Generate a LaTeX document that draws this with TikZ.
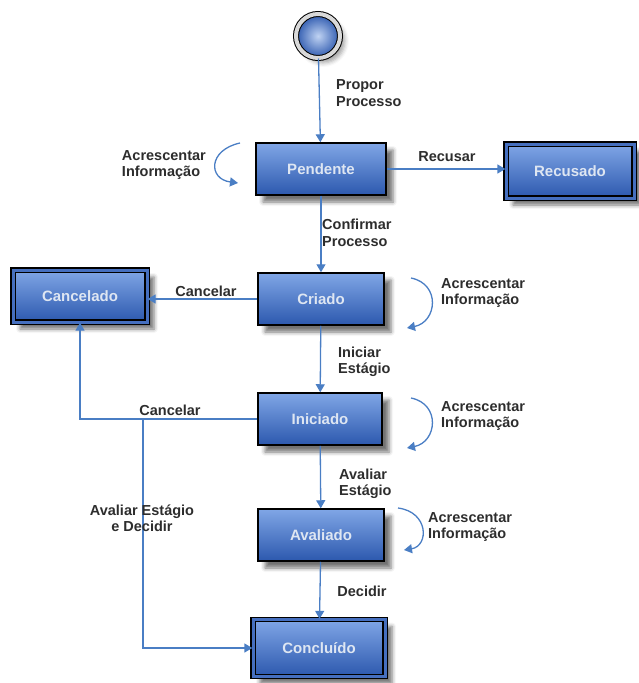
\documentclass[tikz,border=0pt]{standalone}
\usepackage{fontspec}
\setmainfont{Liberation Sans}
\usetikzlibrary{positioning,arrows.meta,calc,shadows.blur}

\definecolor{flowblue}{RGB}{74,126,196}
\definecolor{boxtop}{RGB}{128,166,230}
\definecolor{boxbot}{RGB}{44,88,174}
\definecolor{boxtext}{RGB}{222,230,242}
\definecolor{lbltext}{RGB}{45,45,45}

\begin{document}
\begin{tikzpicture}[x=1pt, y=-1pt,
  lbl/.style={font=\fontsize{14.5}{16.5}\selectfont\bfseries, text=lbltext, inner sep=1pt},
  state/.style={rectangle, draw=black, line width=1.5pt, top color=boxtop, bottom color=boxbot,
    text=boxtext, font=\fontsize{15}{17}\selectfont\bfseries, minimum width=126pt, minimum height=52pt,
    blur shadow={shadow xshift=7pt, shadow yshift=-7pt, shadow blur radius=4pt, shadow opacity=55}},
  final/.style={state, double=boxbot!70!boxtop, double distance=3pt, line width=1.3pt},
  startv/.style={circle, draw=black, line width=1pt, double=gray!30, double distance=4pt,
    inner color=boxtop!50!white, outer color=boxbot, minimum size=44pt,
    blur shadow={shadow xshift=5pt, shadow yshift=-5pt, shadow blur radius=4pt, shadow opacity=35}},
  flow/.style={draw=flowblue, line width=1.3pt, -{Triangle[width=9pt,length=8pt]}},
  line/.style={draw=flowblue, line width=1.3pt}
]
\useasboundingbox (0,0) rectangle (638,683);

\node[startv] (ini) at (318,36) {};
\node[state, minimum width=130pt] (pend) at (321,169) {Pendente};
\node[final, minimum width=128pt, minimum height=54pt] (recus) at (570,171) {Recusado};
\node[state] (criad) at (321,299) {Criado};
\node[final, minimum width=134pt, minimum height=52pt] (cancel) at (80,296) {Cancelado};
\node[state, minimum width=124pt] (inic) at (320,419) {Iniciado};
\node[state] (aval) at (321,535) {Avaliado};
\node[final, minimum width=132pt, minimum height=57pt] (concl) at (319,648) {Conclu\'ido};
\coordinate (br) at (143,419);

\draw[flow] (ini) -- (pend);
\draw[flow] (pend.east) -- (pend.east -| recus.west);
\draw[flow] (pend) -- (criad);
\draw[flow] (criad) -- (cancel.east |- criad.west);
\draw[flow] (criad) -- (inic);
\draw[flow] (inic.west) -| (cancel.south);
\draw[flow] (br) |- (concl.west);
\draw[flow] (inic) -- (aval);
\draw[flow] (aval) -- (concl);

\draw[flow] (240,143) .. controls (208,150) and (208,179) .. (238,183);
\draw[flow] (411,278) .. controls (441,284) and (437,322) .. (407,328);
\draw[flow] (411,398) .. controls (441,404) and (437,442) .. (407,448);
\draw[flow] (398,508) .. controls (429,512) and (429,546) .. (404,550);

\node[lbl, anchor=west, align=left] at (335,93) {Propor\\Processo};
\node[lbl] at (447,157) {Recusar};
\node[lbl, anchor=west, align=left] at (321,233) {Confirmar\\Processo};
\node[lbl] at (206,291) {Cancelar};
\node[lbl, anchor=west, align=left] at (337,362) {Iniciar\\Est\'agio};
\node[lbl] at (170,410) {Cancelar};
\node[lbl, anchor=west, align=left] at (338,484) {Avaliar\\Est\'agio};
\node[lbl, align=center] at (142,518) {Avaliar Est\'agio\\e Decidir};
\node[lbl] at (362,591) {Decidir};
\node[lbl, anchor=east, align=left] at (207,165) {Acrescentar\\Informa\c{c}\~ao};
\node[lbl, anchor=west, align=left] at (440,293) {Acrescentar\\Informa\c{c}\~ao};
\node[lbl, anchor=west, align=left] at (440,416) {Acrescentar\\Informa\c{c}\~ao};
\node[lbl, anchor=west, align=left] at (427,527) {Acrescentar\\Informa\c{c}\~ao};

\end{tikzpicture}
\end{document}
